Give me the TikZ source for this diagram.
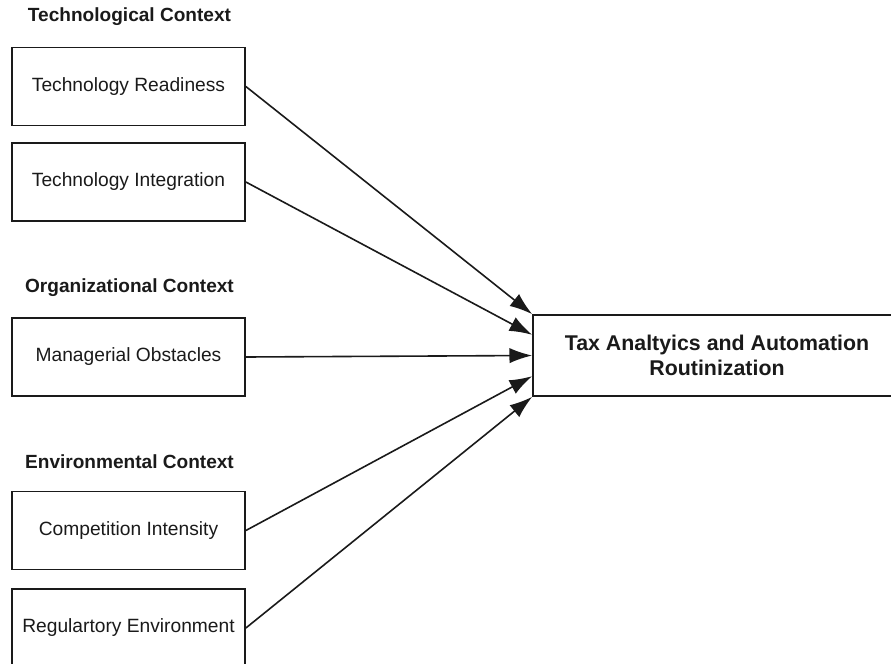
\documentclass[tikz,border=0pt]{standalone}
\usepackage{fontspec}
\setmainfont{Liberation Sans}
\usetikzlibrary{arrows.meta,calc}
\definecolor{ink}{HTML}{1A1A1A}
\tikzset{
  factor/.style={draw=ink, line width=1.3pt, minimum width=174.75pt, minimum height=58.5pt,
    inner sep=0pt, font=\fontsize{14.4pt}{17pt}\selectfont, text=ink},
  outcome/.style={draw=ink, line width=1.3pt, minimum width=276pt, minimum height=60.75pt,
    inner sep=0pt, align=center, font=\bfseries\fontsize{16pt}{19pt}\selectfont, text=ink},
  header/.style={font=\bfseries\fontsize{14.3pt}{17pt}\selectfont, text=ink, inner sep=0pt},
  link/.style={draw=ink, line width=1.2pt, -{Latex[length=17pt, width=11.5pt]}}
}
\begin{document}
\begin{tikzpicture}[x=0.75pt, y=-0.75pt]
\clip (0,0) rectangle (891,663);
\useasboundingbox (0,0) rectangle (891,663);
\node[header] (h1) at (129.5,17) {Technological Context};
\node[header] (h2) at (129.5,288) {Organizational Context};
\node[header] (h3) at (129.5,462) {Environmental Context};
\node[factor] (tr) at (128.5,86.5) {Technology Readiness};
\node[factor] (ti) at (128.5,182) {Technology Integration};
\node[factor] (mo) at (128.5,357) {Managerial Obstacles};
\node[factor] (ci) at (128.5,530.5) {Competition Intensity};
\node[factor] (re) at (128.5,628) {Regulartory Environment};
\node[outcome] (out) at (717,355.5) {Tax Analtyics and Automation\\Routinization};
\coordinate (e1) at (out.north west);
\coordinate (e2) at ($(out.north west)!0.25!(out.south west)$);
\coordinate (e3) at (out.west);
\coordinate (e4) at ($(out.north west)!0.75!(out.south west)$);
\coordinate (e5) at (out.south west);
\draw[link] (tr.east) -- (e1);
\draw[link] (ti.east) -- (e2);
\draw[link] (mo.east) -- (e3);
\draw[link] (ci.east) -- (e4);
\draw[link] (re.east) -- (e5);
\end{tikzpicture}
\end{document}
